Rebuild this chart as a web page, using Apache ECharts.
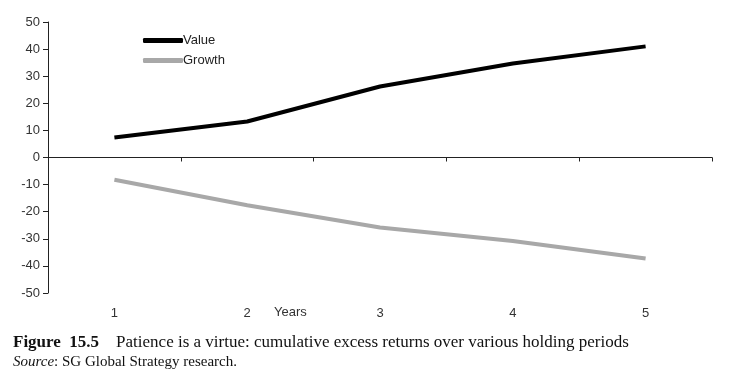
<!DOCTYPE html>
<html><head><meta charset="utf-8">
<script src="https://cdn.jsdelivr.net/npm/echarts@6/dist/echarts.min.js"></script>
<style>html,body{margin:0;padding:0;background:#fff}#c{width:730px;height:386px}</style>
</head><body><div id="c"></div>
<script>
const categories = ['1','2','3','4','5'];
const valueSeries = [7.4, 13.3, 26.2, 34.7, 41.0];
const growthSeries = [-8.2, -17.6, -25.8, -30.8, -37.3];
const yTicks = {min: -50, max: 50, interval: 10};
const chart = echarts.init(document.getElementById('c'));
const font = 'Liberation Sans, Arial, sans-serif';
const serif = 'Liberation Serif, Times New Roman, serif';
chart.setOption({
  animation: false,
  backgroundColor: '#fff',
  grid: {left: 48, right: 18, top: 22, bottom: 93},
  legend: {
    orient: 'vertical', left: 138, top: 29, itemWidth: 40, itemHeight: 5, itemGap: 7,
    textStyle: {fontFamily: font, fontSize: 13, color: '#222', padding: [0,0,0,-5]},
    data: [{name: 'Value', icon: 'roundRect'}, {name: 'Growth', icon: 'roundRect'}]
  },
  xAxis: [{
    type: 'category', data: categories, boundaryGap: true,
    axisLine: {onZero: true, lineStyle: {color: '#222', width: 1}},
    axisTick: {show: true, length: 4, lineStyle: {color: '#222'}},
    axisLabel: {show: false}
  }, {
    type: 'category', data: categories, boundaryGap: true, position: 'bottom',
    axisLine: {show: false, onZero: false}, axisTick: {show: false},
    axisLabel: {show: true, margin: 14, fontFamily: font, fontSize: 13, color: '#333'}
  }],
  yAxis: {
    type: 'value', min: yTicks.min, max: yTicks.max, interval: yTicks.interval,
    axisLine: {show: true, lineStyle: {color: '#222', width: 1}},
    axisTick: {show: true, length: 5, lineStyle: {color: '#222'}},
    axisLabel: {fontFamily: font, fontSize: 13, color: '#333', margin: 8},
    splitLine: {show: false}
  },
  series: [{
    name: 'Value', type: 'line', data: valueSeries, symbol: 'none',
    lineStyle: {color: '#000', width: 4}, itemStyle: {color: '#000'}
  }, {
    name: 'Growth', type: 'line', data: growthSeries, symbol: 'none',
    lineStyle: {color: '#a8a8a8', width: 4}, itemStyle: {color: '#a8a8a8'}
  }],
  graphic: [{
    type: 'text', left: 274, top: 306,
    style: {text: 'Years', fontFamily: font, fontSize: 13, fill: '#333'}
  }, {
    type: 'text', left: 13, top: 334,
    style: {
      text: '{b|Figure  15.5}    Patience is a virtue: cumulative excess returns over various holding periods',
      fontFamily: serif, fontSize: 17, fill: '#111',
      rich: {b: {fontWeight: 'bold', fontFamily: serif, fontSize: 17, fill: '#111'}}
    }
  }, {
    type: 'text', left: 13, top: 355,
    style: {
      text: '{i|Source}: SG Global Strategy research.',
      fontFamily: serif, fontSize: 15, fill: '#111',
      rich: {i: {fontStyle: 'italic', fontFamily: serif, fontSize: 15, fill: '#111'}}
    }
  }]
});
</script></body></html>
